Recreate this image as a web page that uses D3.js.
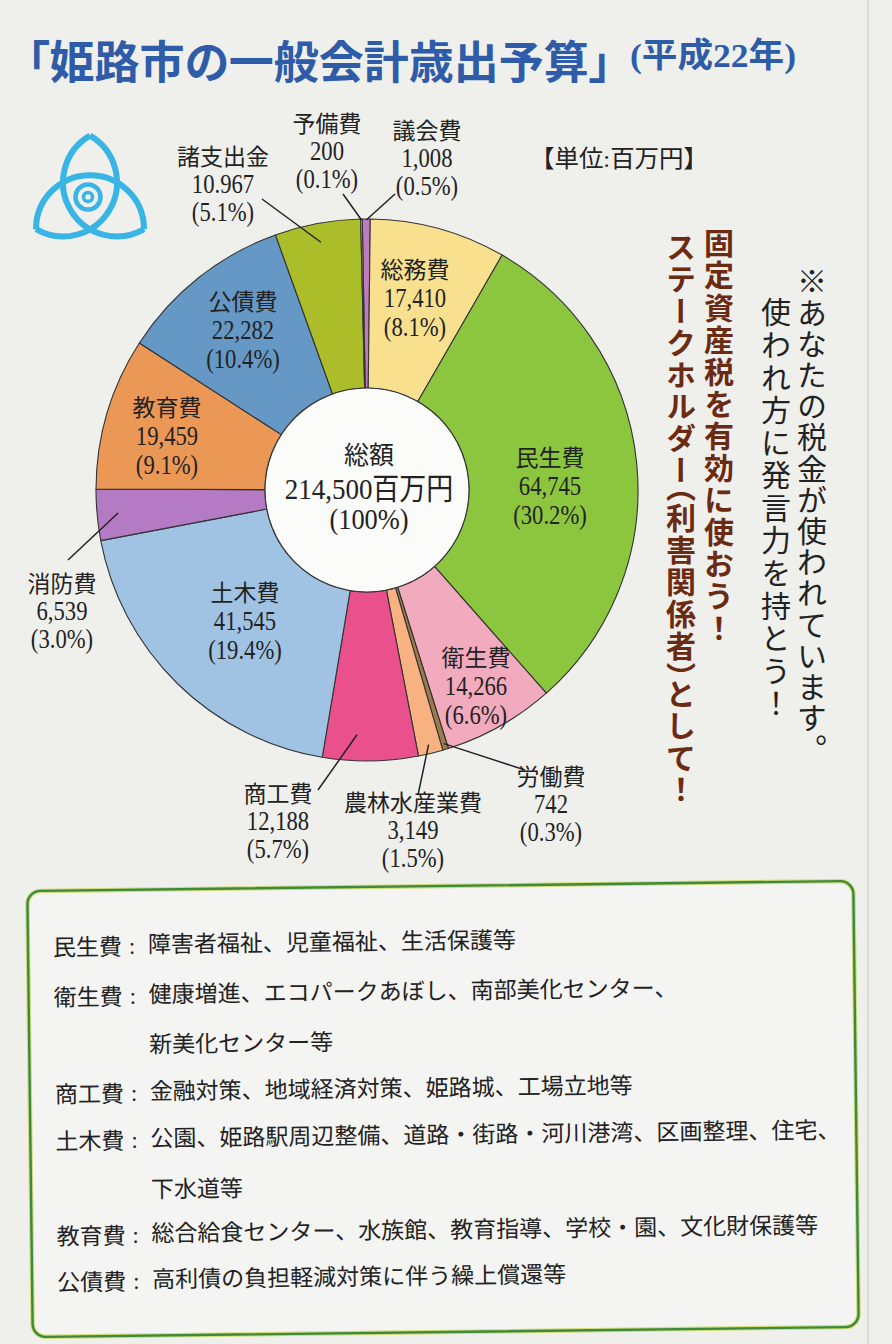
<!DOCTYPE html>
<html>
<head>
<meta charset="utf-8">
<script src="https://cdn.jsdelivr.net/npm/d3@7"></script>
<style>
html, body { margin: 0; padding: 0; background: #efefec; }
svg { display: block; }
text { font-family: "Liberation Serif", "Noto Sans CJK JP", serif; fill: #222; }
</style>
</head>
<body>
<svg id="chart" width="892" height="1344"></svg>
<script>
// data (clockwise from 12 o'clock)
var categories = ["議会費", "総務費", "民生費", "衛生費", "労働費", "農林水産業費", "商工費",
                  "土木費", "消防費", "教育費", "公債費", "諸支出金", "予備費"];
var amounts = [1008, 17410, 64745, 14266, 742, 3149, 12188, 41545, 6539, 19459, 22282, 10967, 200];
var amountText = ["1,008", "17,410", "64,745", "14,266", "742", "3,149", "12,188",
                  "41,545", "6,539", "19,459", "22,282", "10.967", "200"];
var shareText = ["0.5%", "8.1%", "30.2%", "6.6%", "0.3%", "1.5%", "5.7%",
                 "19.4%", "3.0%", "9.1%", "10.4%", "5.1%", "0.1%"];
var totalText = ["総額", "214,500百万円", "(100%)"];

var noteHeads = ["民生費", "衛生費", "", "商工費", "土木費", "", "教育費", "公債費"];
var noteTexts = ["障害者福祉、児童福祉、生活保護等",
                 "健康増進、エコパークあぼし、南部美化センター、",
                 "新美化センター等",
                 "金融対策、地域経済対策、姫路城、工場立地等",
                 "公園、姫路駅周辺整備、道路・街路・河川港湾、区画整理、住宅、",
                 "下水道等",
                 "総合給食センター、水族館、教育指導、学校・園、文化財保護等",
                 "高利債の負担軽減対策に伴う繰上償還等"];

// styles / layout
var sliceColors = ["#bd7bc0", "#f8e08e", "#8cc63f", "#f2aabf", "#9c7b4e", "#f8b282", "#ea508c",
                   "#a0c3e4", "#b57ac4", "#eb9756", "#6598c5", "#abbe2a", "#f5e650"];
var color = d3.scaleOrdinal(categories, sliceColors);

var cx = 367, cy = 490, rOut = 271, rIn = 102;
var offset = -Math.PI / 180;

// inside labels: x and baseline of first line
var inside = {
  "総務費": [415, 278], "民生費": [550, 466], "衛生費": [476, 666],
  "土木費": [245, 601], "教育費": [167, 416], "公債費": [243, 310]
};
// outside labels: x, first baseline, leader start, leader end radius, position inside slice
var outside = {
  "諸支出金":    { x: 223, y: 165, from: [262, 199], r: 252, f: 0.5 },
  "予備費":      { x: 327, y: 132, from: [343, 194], r: 270, f: 0.5 },
  "議会費":      { x: 427, y: 139, from: [395, 194], r: 270, f: 0.5 },
  "消防費":      { x: 62,  y: 592, from: [68, 560],  r: 250, f: 0.5 },
  "商工費":      { x: 278, y: 802, from: [318, 790], r: 245, f: 0.65 },
  "農林水産業費": { x: 413, y: 811, from: [418, 795], r: 262, f: 0.5 },
  "労働費":      { x: 551, y: 785, from: [525, 770], r: 265, f: 0.5 }
};

var svg = d3.select("#chart");

svg.append("line").attr("x1", 868).attr("x2", 868).attr("y1", 0).attr("y2", 1344)
  .attr("stroke", "#d4d4d2").attr("stroke-width", 1.5);

// title
svg.append("text").attr("x", 27).attr("y", 79)
  .style("font-family", "'Noto Sans CJK JP'").style("font-size", "45px").style("font-weight", 700)
  .style("font-feature-settings", "'palt'")
  .style("fill", "#2f5ca8")
  .text("「姫路市の一般会計歳出予算」");
svg.append("text").attr("x", 630).attr("y", 67)
  .attr("textLength", 166).attr("lengthAdjust", "spacingAndGlyphs")
  .style("font-size", "34px").style("font-weight", 700).style("fill", "#2f5ca8")
  .text("(平成22年)");

// unit
svg.append("text").attr("x", 530).attr("y", 167)
  .attr("textLength", 178).attr("lengthAdjust", "spacingAndGlyphs")
  .style("font-size", "24px")
  .text("【単位:百万円】");

// emblem
var emb = svg.append("g");
var O = [90, 198], R = 54, dC = R / Math.sqrt(3);
[210, 330, 90].forEach(function(deg) {
  var a = deg * Math.PI / 180;
  var c = [O[0] + dC * Math.cos(a), O[1] + dC * Math.sin(a)];
  var th = a + Math.PI;
  var p = d3.path();
  p.arc(c[0], c[1], R, th - Math.PI / 2, th + Math.PI / 2);
  emb.append("path").attr("d", p.toString())
    .attr("fill", "none").attr("stroke", "#38b5e4").attr("stroke-width", 6);
});
emb.append("circle").attr("cx", O[0] - 2).attr("cy", O[1] - 1).attr("r", 12.5)
  .attr("fill", "none").attr("stroke", "#38b5e4").attr("stroke-width", 4.5);
emb.append("circle").attr("cx", O[0] - 2).attr("cy", O[1] - 1).attr("r", 4.5)
  .attr("fill", "none").attr("stroke", "#38b5e4").attr("stroke-width", 3.5);

// donut
var pie = d3.pie().sort(null).value(function(d) { return d; })
  .startAngle(offset).endAngle(offset + 2 * Math.PI);
var arcs = pie(amounts);
var arc = d3.arc().innerRadius(rIn).outerRadius(rOut);

var g = svg.append("g").attr("transform", "translate(" + cx + "," + cy + ")");
g.selectAll("path.slice").data(arcs).enter().append("path")
  .attr("class", "slice")
  .attr("d", arc)
  .attr("fill", function(d, i) { return color(categories[i]); })
  .attr("stroke", "#333").attr("stroke-width", 1.1).attr("stroke-linejoin", "round");
g.append("circle").attr("r", rIn).attr("fill", "#fbfbf9").attr("stroke", "#333").attr("stroke-width", 1.1);

// text helpers
function addLine(sel, x, y, str, size, sx) {
  sel.append("text")
    .attr("transform", "translate(" + x + "," + y + ") scale(" + sx + ",1)")
    .attr("text-anchor", "middle")
    .style("font-size", size + "px")
    .text(str);
}
function addLabel(x, y, i, step) {
  addLine(svg, x, y, categories[i], 23, 1);
  addLine(svg, x, y + step, amountText[i], 27, 0.84);
  addLine(svg, x, y + 2 * step, "(" + shareText[i] + ")", 27, 0.84);
}

categories.forEach(function(c, i) {
  if (inside[c]) addLabel(inside[c][0], inside[c][1], i, 29);
});

// center total
addLine(svg, cx + 2, 464, totalText[0], 25, 1);
addLine(svg, cx + 2, 499, totalText[1], 30, 0.9);
addLine(svg, cx + 2, 529, totalText[2], 30, 0.88);

// outside labels with leaders
categories.forEach(function(c, i) {
  var o = outside[c];
  if (!o) return;
  addLabel(o.x, o.y, i, 28);
  var a = arcs[i].startAngle + o.f * (arcs[i].endAngle - arcs[i].startAngle);
  svg.append("line")
    .attr("x1", o.from[0]).attr("y1", o.from[1])
    .attr("x2", cx + o.r * Math.sin(a)).attr("y2", cy - o.r * Math.cos(a))
    .attr("stroke", "#222").attr("stroke-width", 1.5);
});

// vertical messages; brackets set half width
function vText(x, y, len, parts, fill, weight) {
  var t = svg.append("text").attr("x", x).attr("y", y)
    .attr("textLength", len).attr("lengthAdjust", "spacing")
    .style("writing-mode", "vertical-rl")
    .style("font-family", "'Noto Sans CJK JP'")
    .style("font-size", "30px").style("font-weight", weight)
    .style("fill", fill);
  parts.forEach(function(s) {
    var ts = t.append("tspan").text(s);
    if (s === "（" || s === "）") ts.style("font-feature-settings", "'vhal'");
  });
}
vText(719, 228, 415, ["固定資産税を有効に使おう！"], "#6b2a12", 700);
vText(681, 232, 572, ["ステークホルダー", "（", "利害関係者", "）", "として！"], "#6b2a12", 700);
vText(812, 266, 498, ["※あなたの税金が使われています。"], "#222", 400);
vText(776, 297, 421, ["使われ方に発言力を持とう！"], "#222", 400);

// note box
var box = svg.append("g").attr("transform", "rotate(-0.7,443,1108)");
box.append("rect").attr("x", 30).attr("y", 886).attr("width", 826).attr("height", 446)
  .attr("rx", 13).attr("fill", "#f4f4f2").attr("stroke", "#d5dc7a").attr("stroke-width", 4.5);
box.append("rect").attr("x", 30).attr("y", 886).attr("width", 826).attr("height", 446)
  .attr("rx", 13).attr("fill", "none").attr("stroke", "#3c8a3e").attr("stroke-width", 2.4);

var noteY = [951, 1001, 1051, 1098, 1145, 1196, 1240, 1286];
noteTexts.forEach(function(t, i) {
  if (noteHeads[i]) {
    box.append("text").attr("x", 55).attr("y", noteY[i])
      .style("font-size", "23px").text(noteHeads[i]);
    box.append("text").attr("x", 131).attr("y", noteY[i] - 1)
      .style("font-size", "23px").text(":");
  }
  box.append("text").attr("x", 150).attr("y", noteY[i] - 2)
    .style("font-size", "23px").text(t);
});
</script>
</body>
</html>
